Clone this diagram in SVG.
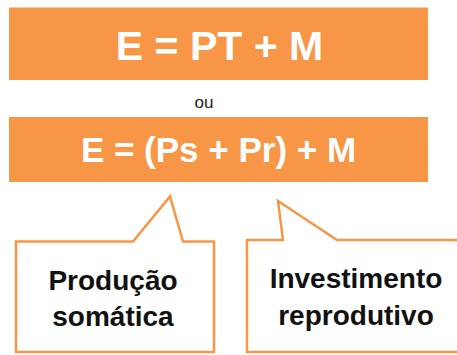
<svg xmlns="http://www.w3.org/2000/svg" width="457" height="355" viewBox="0 0 457 355">
  <style>
    .bar { fill: #F79646; }
    .formula { fill: #FFFFFF; font-family: "Liberation Sans", Arial, sans-serif; font-weight: bold; text-anchor: middle; }
    .callout { fill: #FFFFFF; stroke: #F79646; stroke-width: 2.5; stroke-linejoin: miter; }
    .label { fill: #111111; font-family: "Liberation Sans", Arial, sans-serif; font-weight: bold; font-size: 28px; text-anchor: middle; }
    .ou { fill: #222222; font-family: "Liberation Sans", Arial, sans-serif; font-size: 17px; text-anchor: middle; }
  </style>
  <rect width="457" height="355" fill="#FFFFFF"/>
  <g id="formula1">
    <rect class="bar" x="9" y="7.5" width="419" height="72.5"/>
    <text class="formula" x="219.5" y="59.5" font-size="41">E = PT + M</text>
  </g>
  <g id="ou">
    <text class="ou" x="204" y="108">ou</text>
  </g>
  <g id="formula2">
    <rect class="bar" x="9" y="117" width="419" height="65"/>
    <text class="formula" x="218.5" y="162" font-size="35">E = (Ps + Pr) + M</text>
  </g>
  <g id="producao-somatica">
    <path class="callout" d="M16,241.5 H133 L170,196.5 L183,241.5 H214 V352 H16 Z"/>
    <text class="label" x="113" y="290">Produção</text>
    <text class="label" x="113" y="326">somática</text>
  </g>
  <g id="investimento-reprodutivo">
    <path class="callout" d="M247,240 H283 L278,201 L337,240 H462 V352 H247 Z"/>
    <text class="label" x="356" y="288">Investimento</text>
    <text class="label" x="356" y="325">reprodutivo</text>
  </g>
  <g id="connectors"/>
</svg>
